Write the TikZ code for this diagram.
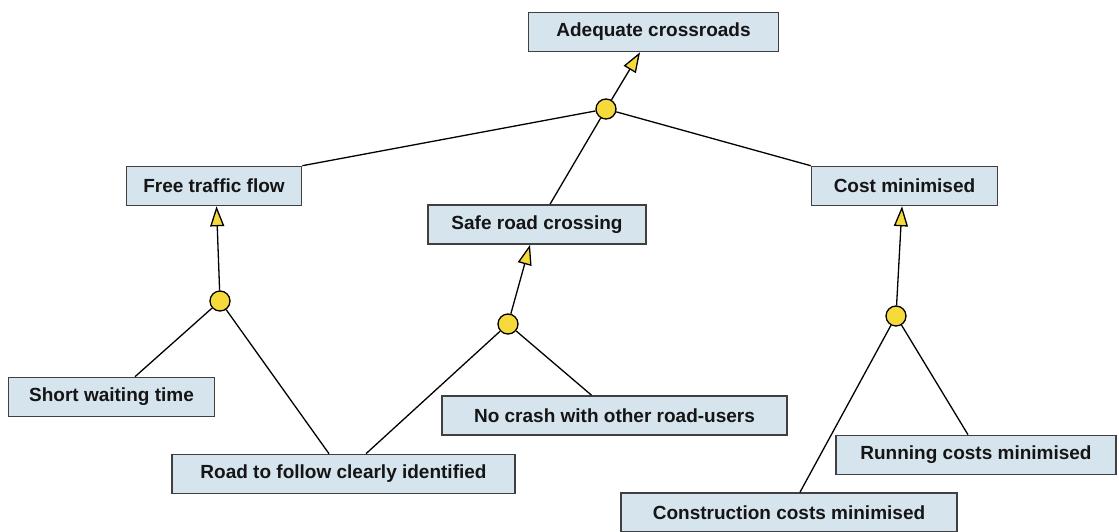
\documentclass[tikz,border=0pt]{standalone}
\usepackage{fontspec}
\setsansfont{Liberation Sans}
\usetikzlibrary{arrows.meta}

\definecolor{boxfill}{HTML}{D6E4EE}
\definecolor{boxline}{HTML}{404040}
\definecolor{andfill}{HTML}{F6DA3C}
\definecolor{txt}{HTML}{151515}

\tikzset{
  goal/.style={draw=boxline, line width=1.6pt, fill=boxfill, rectangle,
    inner sep=0pt, minimum height=39pt, text=txt,
    font=\sffamily\bfseries\fontsize{19}{22}\selectfont},
  andnode/.style={draw=black, line width=1.3pt, fill=andfill, circle,
    inner sep=0pt, minimum size=20pt},
  link/.style={draw=black, line width=1.3pt},
  refine/.style={link, -{Triangle[length=20pt,width=14pt,fill=andfill]}},
}

\begin{document}
\begin{tikzpicture}[x=1pt,y=-1pt]
\useasboundingbox (0,0) rectangle (1119,531);

% goals
\node[goal, minimum width=250pt] (ade)     at (653.5,32)   {Adequate crossroads};
\node[goal, minimum width=175pt] (free)    at (214,186)    {Free traffic flow};
\node[goal, minimum width=218pt] (safe)    at (537,224.5)  {Safe road crossing};
\node[goal, minimum width=186pt] (cost)    at (904.5,186)  {Cost minimised};
\node[goal, minimum width=206pt] (short)   at (111.5,397)  {Short waiting time};
\node[goal, minimum width=343pt] (road)    at (343.5,474)  {Road to follow clearly identified};
\node[goal, minimum width=345pt] (nocrash) at (614.5,415.5) {No crash with other road-users};
\node[goal, minimum width=280pt] (running) at (976,455)    {Running costs minimised};
\node[goal, minimum width=336pt] (constr)  at (789,512.5)  {Construction costs minimised};

% AND-refinement points
\node[andnode] (ctop)   at (606,109) {};
\node[andnode] (cleft)  at (220,301) {};
\node[andnode] (cmid)   at (508,324) {};
\node[andnode] (cright) at (896,316) {};

% refinement of the root goal
\draw[refine] (ctop) -- ([xshift=-13.5pt]ade.south);
\draw[link] (ctop) -- (free.north east);
\draw[link] (ctop) -- ([xshift=13pt]safe.north);
\draw[link] (ctop) -- (cost.north west);

% free traffic flow
\draw[refine] (cleft) -- ([xshift=2.5pt]free.south);
\draw[link] (cleft) -- ([xshift=23.5pt]short.north);
\draw[link] (cleft) -- ([xshift=-14.5pt]road.north);

% safe road crossing
\draw[refine] (cmid) -- ([xshift=-7pt]safe.south);
\draw[link] (cmid) -- ([xshift=22.5pt]road.north);
\draw[link] (cmid) -- ([xshift=-23pt]nocrash.north);

% cost minimised
\draw[refine] (cright) -- ([xshift=-2.5pt]cost.south);
\draw[link] (cright) -- ([xshift=11pt]constr.north);
\draw[link] (cright) -- ([xshift=-8pt]running.north);
\end{tikzpicture}
\end{document}
